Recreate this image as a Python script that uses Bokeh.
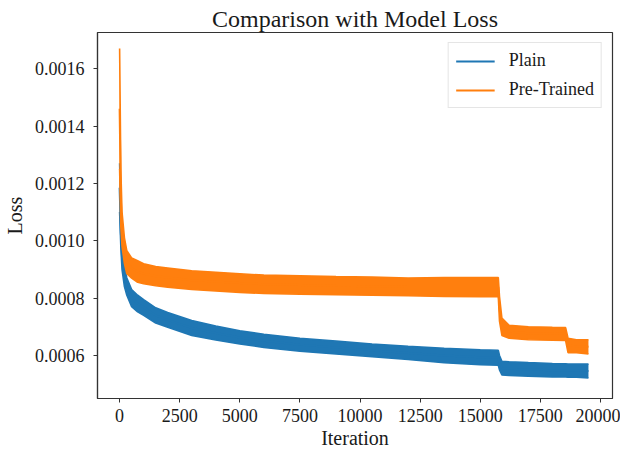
from bokeh.plotting import figure
from bokeh.models import Range1d, FixedTicker, Legend, LegendItem
from bokeh.embed import file_html
from bokeh.resources import INLINE

# ---- data (noisy band envelopes) ----
iters = [0, 50, 100, 200, 300, 500, 750, 1000, 1500, 2000, 3000, 4000, 5000, 6000,
         7500, 9000, 10500, 12000, 13500, 15000, 15750, 15800, 15900, 16200, 17000,
         18000, 18550, 18650, 19000, 19500]

plain_upper = [0.00127, 0.00108, 0.00098, 0.00091, 0.00087, 0.00083, 0.00081, 0.000795,
               0.000766, 0.00075, 0.000722, 0.000703, 0.000686, 0.000674, 0.00066, 0.00065,
               0.00064, 0.000632, 0.000625, 0.00062, 0.000618, 0.0006, 0.00058, 0.000578,
               0.000575, 0.000572, 0.000571, 0.00057, 0.00057, 0.00057]
plain_lower = [0.00110, 0.00098, 0.00090, 0.00084, 0.00081, 0.00077, 0.000752, 0.00074,
               0.000713, 0.000698, 0.00067, 0.000654, 0.00064, 0.000628, 0.000615, 0.000605,
               0.000596, 0.000586, 0.000575, 0.000568, 0.000566, 0.00055, 0.000532, 0.00053,
               0.000528, 0.000525, 0.000525, 0.000524, 0.000524, 0.000522]

pre_upper = [0.00167, 0.00125, 0.00110, 0.00101, 0.000965, 0.00094, 0.00093, 0.00092,
             0.00091, 0.000905, 0.000895, 0.00089, 0.000885, 0.00088, 0.000878, 0.000875,
             0.000873, 0.00087, 0.000872, 0.000872, 0.000872, 0.000805, 0.00073, 0.000705,
             0.0007, 0.000698, 0.000697, 0.00066, 0.000655, 0.000655]
pre_lower = [0.00125, 0.00105, 0.00098, 0.00092, 0.000885, 0.00087, 0.000855, 0.00085,
             0.000843, 0.000838, 0.00083, 0.000825, 0.00082, 0.000816, 0.000814, 0.000812,
             0.00081, 0.000808, 0.000806, 0.000805, 0.000805, 0.00072, 0.00067, 0.00066,
             0.000655, 0.000653, 0.000652, 0.00061, 0.00061, 0.000605]

series_names = ["Plain", "Pre-Trained"]
series_colors = ["#1f77b4", "#ff7f0e"]

x_ticks = [0, 2500, 5000, 7500, 10000, 12500, 15000, 17500, 20000]
x_tick_labels = ["0", "2500", "5000", "7500", "10000", "12500", "15000", "17500", "20000"]
y_ticks = [0.0006, 0.0008, 0.0010, 0.0012, 0.0014, 0.0016]
y_tick_labels = ["0.0006", "0.0008", "0.0010", "0.0012", "0.0014", "0.0016"]

FONT = "Liberation Serif"
TXT = "#1a1a1a"

p = figure(width=620, height=451, output_backend="svg", toolbar_location=None,
           x_range=Range1d(-920, 20500), y_range=Range1d(0.00045, 0.001726),
           min_border_left=97, min_border_right=8, min_border_top=32, min_border_bottom=53,
           title="Comparison with Model Loss")

p.title.text_font = FONT
p.title.text_font_size = "24px"
p.title.text_font_style = "normal"
p.title.text_color = TXT
p.title.align = "center"
p.title.standoff = 2

p.grid.visible = False
p.outline_line_color = "#333333"
p.outline_line_width = 1.2
p.background_fill_color = "white"
p.border_fill_color = "white"

for ax in (p.xaxis[0], p.yaxis[0]):
    ax.axis_line_color = "#333333"
    ax.axis_line_width = 1.2
    ax.major_tick_line_color = "#333333"
    ax.major_tick_in = 0
    ax.major_tick_out = 4
    ax.minor_tick_line_color = None
    ax.major_label_text_font = FONT
    ax.major_label_text_font_size = "18px"
    ax.major_label_text_color = TXT
    ax.axis_label_text_font = FONT
    ax.axis_label_text_font_size = "20px"
    ax.axis_label_text_font_style = "normal"
    ax.axis_label_text_color = TXT

p.xaxis.axis_label = "Iteration"
p.yaxis.axis_label = "Loss"
p.xaxis.ticker = FixedTicker(ticks=x_ticks)
p.yaxis.ticker = FixedTicker(ticks=y_ticks)
p.xaxis.major_label_overrides = dict(zip(x_ticks, x_tick_labels))
p.yaxis.major_label_overrides = dict(zip(y_ticks, y_tick_labels))
p.xaxis.major_label_standoff = 6
p.yaxis.major_label_standoff = 9
p.xaxis.axis_label_standoff = 2
p.yaxis.axis_label_standoff = 6

bands = [(plain_upper, plain_lower), (pre_upper, pre_lower)]
line_renderers = []
for (up, lo), name, col in zip(bands, series_names, series_colors):
    p.varea(x=iters, y1=lo, y2=up, fill_color=col, fill_alpha=1.0)
    p.line(x=iters, y=up, line_color=col, line_width=1.6)
    p.line(x=iters, y=lo, line_color=col, line_width=1.6)
    mid = [(a + b) / 2 for a, b in zip(up, lo)]
    r = p.line(x=iters, y=mid, line_color=col, line_width=2)
    line_renderers.append(r)

legend = Legend(items=[LegendItem(label=n, renderers=[r]) for n, r in zip(series_names, line_renderers)],
                location="top_right")
legend.label_text_font = FONT
legend.label_text_font_size = "18px"
legend.label_text_color = TXT
legend.glyph_width = 39
legend.label_standoff = 14
legend.padding = 7
legend.spacing = 8
legend.margin = 10
legend.border_line_color = "#cccccc"
legend.border_line_width = 1
legend.background_fill_alpha = 0.8
p.add_layout(legend)

open("out.html", "w").write(file_html(p, INLINE))
